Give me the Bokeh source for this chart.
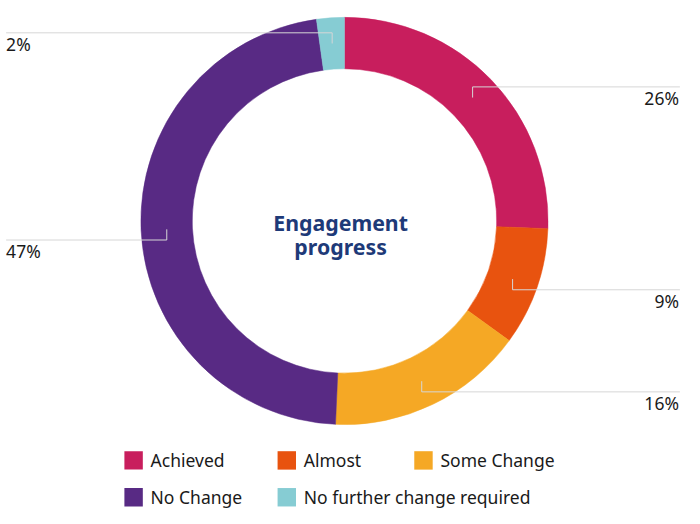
import math
from bokeh.plotting import figure
from bokeh.models import Range1d, ColumnDataSource
from bokeh.core.properties import value
from bokeh.embed import file_html
from bokeh.resources import INLINE

# ---- data ----
categories = ["Achieved", "Almost", "Some Change", "No Change", "No further change required"]
percent = [25.6, 9.4, 15.7, 47.1, 2.2]
colors = ["#c81e5d", "#e8530f", "#f5a825", "#582a84", "#86ccd3"]
title_lines = ["Engagement", "progress"]

# ---- layout (reference-pixel units, centred on the donut, y up) ----
W, H = 684, 508
S = H / 524.0
X0 = -354.8
X1 = X0 + W / S
Y1 = 227.4
Y0 = Y1 - 524.0
R_IN, R_OUT = 157, 210
FONT = value("Noto Sans")
FS = "%.1fpx" % (18 * S)

p = figure(width=W, height=H, x_range=Range1d(X0, X1), y_range=Range1d(Y0, Y1),
           output_backend="svg", toolbar_location=None,
           x_axis_type=None, y_axis_type=None, min_border=0)
p.grid.visible = False
p.outline_line_color = None
p.background_fill_color = "white"
p.border_fill_color = "white"

# ---- donut ----
total = float(sum(percent))
starts, ends, mids = [], [], []
cum = 0.0
for v in percent:
    a0 = math.pi / 2 - 2 * math.pi * cum / total
    cum += v
    a1 = math.pi / 2 - 2 * math.pi * cum / total
    starts.append(a0)
    ends.append(a1)
    mids.append((a0 + a1) / 2)

src = ColumnDataSource(dict(start=starts, end=ends, color=colors))
p.annular_wedge(x=0, y=0, inner_radius=R_IN, outer_radius=R_OUT,
                start_angle="start", end_angle="end", direction="clock",
                fill_color="color", line_color="color", line_width=0.5, source=src)

# ---- leader lines and percentage labels ----
r_mid = (R_IN + R_OUT) / 2.0
lx, ly, la, lt = [], [], [], []
for m, v in zip(mids, percent):
    ax = r_mid * math.cos(m)
    ay = r_mid * math.sin(m)
    ey = ay + 11 if ay > 0 else ay - 11
    if ax > 0:
        edge = 346
        tx, al = 345, "right"
    else:
        edge = -349
        tx, al = -349, "left"
    p.line([ax, ax, edge], [ay, ey, ey], line_color="#d6d6d6", line_width=1)
    lx.append(tx)
    ly.append(ey - 11.5)
    la.append(al)
    lt.append("%d%%" % round(v / total * 100))

p.text(x=lx, y=ly, text=lt, text_align=la, text_baseline="middle",
       text_font=FONT, text_font_size=FS, text_color="#1a1a1a")

# ---- centre title ----
p.text(x=[-4, -4], y=[-1.5, -26.5], text=title_lines, text_align="center",
       text_baseline="alphabetic", text_font=FONT, text_font_style="bold",
       text_font_size="%.1fpx" % (22 * S), text_color="#1e3a78")

# ---- legend ----
col_off = [0, 158, 299]
row_y = [-247, -285]
sq_x, sq_y, tx_x = [], [], []
for i in range(len(categories)):
    left = 125 - 352 + col_off[i % 3]
    sq_x.append(left + 9.5)
    sq_y.append(row_y[i // 3])
    tx_x.append(left + 27)
p.rect(x=sq_x, y=sq_y, width=19, height=19, fill_color=colors, line_color=None)
p.text(x=tx_x, y=sq_y, text=categories, text_align="left", text_baseline="middle",
       text_font=FONT, text_font_size=FS, text_color="#1a1a1a")

open("out.html", "w").write(file_html(p, INLINE))
